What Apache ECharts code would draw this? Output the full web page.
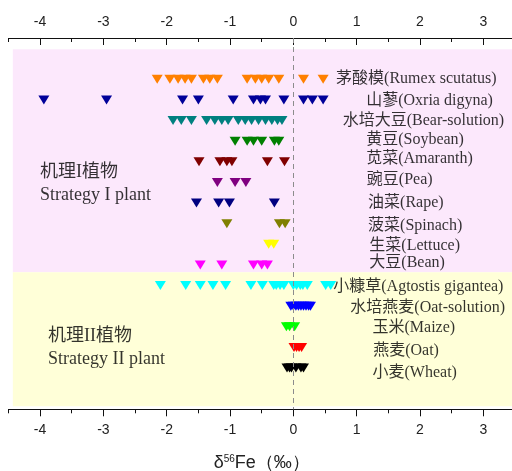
<!DOCTYPE html>
<html>
<head>
<meta charset="utf-8">
<script src="https://cdn.jsdelivr.net/npm/echarts@6/dist/echarts.min.js"></script>
<style>
  html, body { margin: 0; padding: 0; background: #fff; }
  #chart { width: 512px; height: 471px; }
</style>
</head>
<body>
<div id="chart"></div>
<script>
// Plant names (Chinese + English), top to bottom
const plantNames = [
  '茅酸模(Rumex scutatus)', '山蓼(Oxria digyna)', '水培大豆(Bear-solution)',
  '黄豆(Soybean)', '苋菜(Amaranth)', '豌豆(Pea)', '油菜(Rape)', '菠菜(Spinach)',
  '生菜(Lettuce)', '大豆(Bean)', '小糠草(Agtostis gigantea)', '水培燕麦(Oat-solution)',
  '玉米(Maize)', '燕麦(Oat)', '小麦(Wheat)'
];

// δ56Fe (‰) measurements per plant
const rumex      = [-2.15, -1.95, -1.82, -1.71, -1.61, -1.42, -1.32, -1.20, -0.73, -0.60, -0.50, -0.39, -0.23, 0.16, 0.47];
const oxria      = [-3.94, -2.95, -1.75, -1.50, -0.95, -0.63, -0.52, -0.44, -0.15, 0.16, 0.30, 0.47];
const beanSol    = [-1.90, -1.77, -1.61, -1.37, -1.24, -1.13, -1.03, -0.87, -0.76, -0.66, -0.55, -0.44, -0.34, -0.25, -0.18];
const soybean    = [-0.92, -0.73, -0.63, -0.50, -0.30, -0.23];
const amaranth   = [-1.49, -1.16, -1.05, -0.97, -0.41, -0.14];
const pea        = [-1.20, -0.92, -0.75];
const rape       = [-1.53, -1.18, -1.01, -0.30];
const spinach    = [-1.05, -0.22, -0.13];
const lettuce    = [-0.39, -0.31];
const bean       = [-1.47, -1.13, -0.63, -0.50, -0.41];
const agrostis   = [-2.10, -1.70, -1.47, -1.27, -1.07, -0.67, -0.49, -0.31, -0.27, -0.21, -0.15, 0.00, 0.05, 0.11, 0.15, 0.22, 0.51, 0.59];
const oatSol     = [-0.04, 0.00, 0.04, 0.08, 0.12, 0.16, 0.20, 0.24, 0.27];
const maize      = [-0.11, -0.06, 0.02];
const oat        = [0.01, 0.05, 0.09, 0.13];
const wheat      = [-0.10, -0.06, -0.03, 0.04, 0.12, 0.16];

const plantValues = [rumex, oxria, beanSol, soybean, amaranth, pea, rape, spinach,
                     lettuce, bean, agrostis, oatSol, maize, oat, wheat];

const plantColors = ['#FF8000', '#000099', '#008080', '#008000', '#800000', '#800080', '#000080',
                     '#808000', '#FFFF00', '#FF00FF', '#00FFFF', '#0000FF', '#00FF00', '#FF0000', '#000000'];

// x-axis tick labels
const tickValues = [-4, -3, -2, -1, 0, 1, 2, 3];
const halfTicks = [-4.5, -3.5, -2.5, -1.5, -0.5, 0.5, 1.5, 2.5, 3.5];

// Layout of the text annotations (in axis units)
const nameLabelX = [0.675, 1.15, 0.78, 1.15, 1.15, 1.16, 1.18, 1.18, 1.2, 1.2, 0.63, 0.9, 1.25, 1.26, 1.25];
const nameLabelY = [1.99, 3.04, 4.03, 4.92, 5.84, 6.89, 8.0, 9.08, 10.05, 10.91, 12.07, 13.07, 14.04, 15.15, 16.25];

const X_MIN = -4.5, X_MAX = 3.5, Y_MAX = 18;
const serif = '"Liberation Serif", "Times New Roman", "Noto Sans CJK SC", serif';
const sans = '"Liberation Sans", Arial, sans-serif';
const ink = '#111';

const gridRect = { left: 8.4, right: -3, top: 38, bottom: 61.7, containLabel: false, outerBoundsMode: 'none' };

function axis(extra) {
  return Object.assign({
    type: 'value', min: X_MIN, max: X_MAX, splitLine: { show: false }
  }, extra);
}

const xAxes = [
  // grid 0 bottom: line, half-unit minor ticks, labels, name
  axis({
    gridIndex: 0, position: 'bottom',
    axisLine: { show: true, onZero: false, lineStyle: { color: ink, width: 1 } },
    axisTick: { show: true, customValues: halfTicks, length: 4, lineStyle: { color: ink } },
    axisLabel: { show: true, customValues: tickValues, margin: 14, fontFamily: sans, fontSize: 14, color: '#222' },
    name: '{a|δ}{s|56}{a|Fe（‰）}', nameLocation: 'middle', nameGap: 45,
    nameTextStyle: {
      rich: {
        a: { fontFamily: sans, fontSize: 18, color: '#222' },
        s: { fontFamily: sans, fontSize: 10, color: '#222', verticalAlign: 'bottom', padding: [0, 0, 8, 0] }
      }
    }
  }),
  // grid 0 top: line, minor ticks inside, labels
  axis({
    gridIndex: 0, position: 'top',
    axisLine: { show: true, onZero: false, lineStyle: { color: ink, width: 1 } },
    axisTick: { show: true, inside: true, customValues: halfTicks, length: 4, lineStyle: { color: ink } },
    axisLabel: { show: true, customValues: tickValues, margin: 9, fontFamily: sans, fontSize: 14, color: '#222' }
  }),
  // grid 1 bottom: integer major ticks
  axis({
    gridIndex: 1, position: 'bottom',
    axisLine: { show: false, onZero: false },
    axisTick: { show: true, customValues: tickValues, length: 7, lineStyle: { color: ink } },
    axisLabel: { show: false }
  }),
  // grid 1 top: integer major ticks inside
  axis({
    gridIndex: 1, position: 'top',
    axisLine: { show: false, onZero: false },
    axisTick: { show: true, inside: true, customValues: tickValues, length: 7, lineStyle: { color: ink } },
    axisLabel: { show: false }
  })
];

const series = [];

// Strategy background bands and the zero reference line
series.push({
  type: 'scatter', xAxisIndex: 0, yAxisIndex: 0, data: [], silent: true,
  markArea: {
    silent: true,
    data: [
      [{ coord: [-4.43, 0.55], itemStyle: { color: '#FCE8FC', opacity: 1 } }, { coord: [X_MAX, 11.35] }],
      [{ coord: [-4.43, 11.35], itemStyle: { color: '#FFFFD8', opacity: 1 } }, { coord: [X_MAX, 17.85] }]
    ]
  },
  markLine: {
    silent: true, symbol: 'none', label: { show: false },
    lineStyle: { color: '#8c8c8c', type: [5, 4], width: 1 },
    data: [[{ coord: [0, 0] }, { coord: [0, Y_MAX] }]]
  }
});

// One triangle row per plant
plantValues.forEach((vals, i) => {
  series.push({
    type: 'scatter', name: plantNames[i], xAxisIndex: 0, yAxisIndex: 0,
    symbol: 'triangle', symbolRotate: 180, symbolSize: [11, 9],
    itemStyle: { color: plantColors[i], opacity: 1 },
    data: vals.map(v => [v, i + 2]),
    z: 3
  });
});

// Plant name labels
series.push({
  type: 'scatter', xAxisIndex: 0, yAxisIndex: 0, symbolSize: 0, silent: true, z: 4,
  data: plantNames.map((n, i) => ({ value: [nameLabelX[i], nameLabelY[i]], name: n })),
  label: {
    show: true, position: 'right', distance: 0,
    formatter: p => p.name,
    fontFamily: serif, fontSize: 16, color: '#000', verticalAlign: 'middle'
  }
});

// Strategy captions
series.push({
  type: 'scatter', xAxisIndex: 0, yAxisIndex: 0, symbolSize: 0, silent: true, z: 4,
  data: [
    { value: [-4.0, 7.09], name: '机理I植物\nStrategy I plant' },
    { value: [-3.875, 15.04], name: '机理II植物\nStrategy II plant' }
  ],
  label: {
    show: true, position: 'right', distance: 0,
    formatter: p => p.name,
    fontFamily: serif, fontSize: 18, lineHeight: 23, color: '#000', verticalAlign: 'middle', align: 'left'
  }
});

const chart = echarts.init(document.getElementById('chart'), null, { renderer: 'canvas' });
chart.setOption({
  animation: false,
  backgroundColor: '#ffffff',
  grid: [Object.assign({}, gridRect), Object.assign({}, gridRect)],
  xAxis: xAxes,
  yAxis: [
    { type: 'value', gridIndex: 0, inverse: true, min: 0, max: Y_MAX, show: false },
    { type: 'value', gridIndex: 1, inverse: true, min: 0, max: Y_MAX, show: false }
  ],
  series: series
});
</script>
</body>
</html>
